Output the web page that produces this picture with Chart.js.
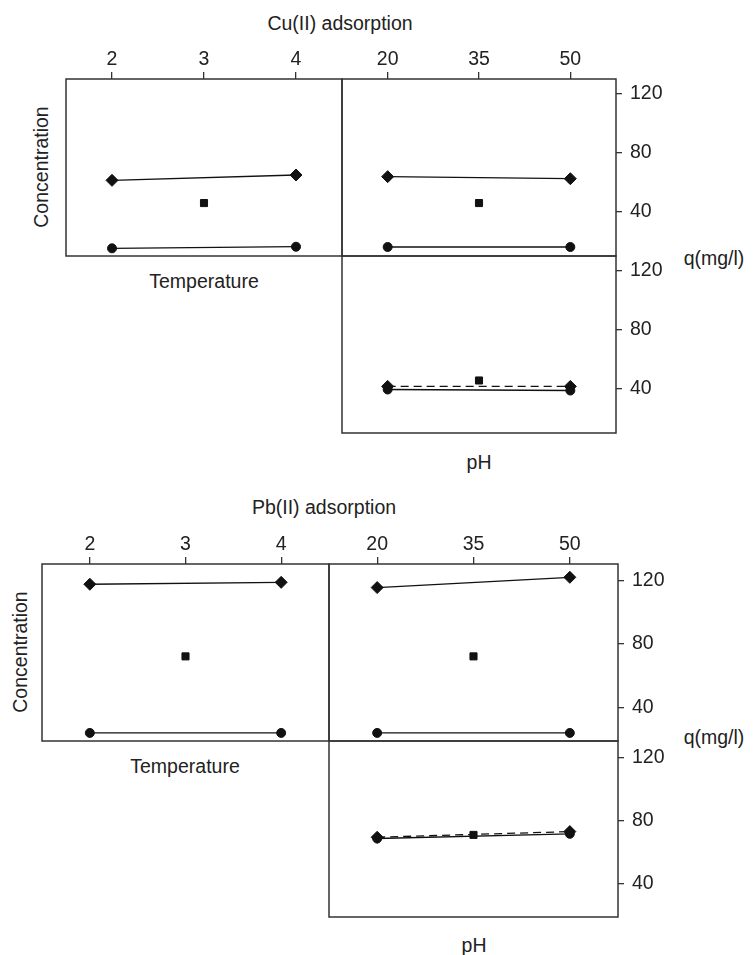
<!DOCTYPE html>
<html>
<head>
<meta charset="utf-8">
<script src="https://cdn.jsdelivr.net/npm/chart.js@4/dist/chart.umd.min.js"></script>
<style>
  body { margin: 0; background: #fff; }
  #page { position: relative; width: 753px; height: 955px; overflow: hidden; font-family: "Liberation Sans", Arial, sans-serif; color: #222; }
  canvas { position: absolute; }
  .lbl { position: absolute; font-size: 19.5px; white-space: nowrap; transform: translate(-50%, -50%); }
  .rot { transform: translate(-50%, -50%) rotate(-90deg); }
</style>
</head>
<body>
<div id="page"></div>
<script>
// factor levels (tick labels)
const tempLevels = [2, 3, 4];
const phLevels = [20, 35, 50];
const qTicks = [40, 80, 120];

// Cu(II): low level = circle, centre point = square, high level = diamond
const cuConcTempLow = [15.2, 16.3];
const cuConcTempHigh = [61.3, 64.9];
const cuConcTempCenter = 45.9;
const cuConcPhLow = [16.1, 16.1];
const cuConcPhHigh = [63.8, 62.4];
const cuConcPhCenter = 45.9;
const cuTempPhLow = [39.5, 38.8];
const cuTempPhHigh = [41.6, 41.6];
const cuTempPhCenter = 45.6;

// Pb(II)
const pbConcTempLow = [23.8, 23.8];
const pbConcTempHigh = [117.8, 119.0];
const pbConcTempCenter = 72.2;
const pbConcPhLow = [23.8, 23.8];
const pbConcPhHigh = [115.7, 122.2];
const pbConcPhCenter = 72.2;
const pbTempPhLow = [68.6, 71.6];
const pbTempPhHigh = [69.4, 73.0];
const pbTempPhCenter = 70.9;

const INK = '#111';
const FRAME = '#333';
const FONT = { family: '"Liberation Sans", Arial, sans-serif', size: 19.5 };
const P = 4, TOP_H = 40, RIGHT_W = 60;

const page = document.getElementById('page');

const frame = {
    id: 'frame',
    beforeDatasetsDraw(chart) {
        const { ctx, chartArea: a } = chart;
        ctx.save();
        ctx.strokeStyle = FRAME;
        ctx.lineWidth = 1.5;
        ctx.strokeRect(a.left, a.top, a.width, a.height);
        ctx.restore();
    }
};

function fixSize(s, w, h) {
    if (w !== null) s.width = w;
    if (h !== null) s.height = h;
    s.paddingTop = s.paddingBottom = s.paddingLeft = s.paddingRight = 0;
}

function series(levels, low, high, center, highDashed) {
    return [
        {
            data: [{ x: levels[0], y: low[0] }, { x: levels[2], y: low[1] }],
            showLine: true, borderColor: INK, borderWidth: 1.3,
            pointStyle: 'circle', pointRadius: 4.5, pointBackgroundColor: INK, pointBorderColor: INK, pointBorderWidth: 1
        },
        {
            data: [{ x: levels[0], y: high[0] }, { x: levels[2], y: high[1] }],
            showLine: true, borderColor: INK, borderWidth: 1.3, borderDash: highDashed ? [8, 5] : [],
            pointStyle: 'rectRot', pointRadius: 6, pointBackgroundColor: INK, pointBorderColor: INK, pointBorderWidth: 1
        },
        {
            data: [{ x: levels[1], y: center }],
            showLine: false,
            pointStyle: 'rect', pointRadius: 5, pointBackgroundColor: INK, pointBorderColor: INK, pointBorderWidth: 1
        }
    ];
}

function panel(box, xRange, yRange, xTicks, showTop, showRight, datasets) {
    const topH = showTop ? TOP_H : 0;
    const rightW = showRight ? RIGHT_W : 0;
    const canvas = document.createElement('canvas');
    canvas.width = box.w + 2 * P + rightW;
    canvas.height = box.h + 2 * P + topH;
    canvas.style.left = (box.l - P) + 'px';
    canvas.style.top = (box.t - P - topH) + 'px';
    page.appendChild(canvas);

    new Chart(canvas, {
        type: 'scatter',
        data: { datasets },
        options: {
            responsive: false,
            animation: false,
            devicePixelRatio: 1,
            layout: { padding: P, autoPadding: false },
            plugins: { legend: { display: false }, tooltip: { enabled: false } },
            scales: {
                x: {
                    type: 'linear', position: 'top', display: showTop,
                    min: xRange[0], max: xRange[1],
                    afterBuildTicks: s => { s.ticks = xTicks.map(v => ({ value: v })); },
                    afterFit: s => fixSize(s, null, topH),
                    border: { display: false },
                    grid: { drawOnChartArea: false, drawTicks: true, tickLength: 7, color: FRAME, lineWidth: 1.3 },
                    ticks: { color: '#222', font: FONT, padding: 1, maxRotation: 0 }
                },
                y: {
                    type: 'linear', position: 'right', display: showRight,
                    min: yRange[0], max: yRange[1],
                    afterBuildTicks: s => { s.ticks = qTicks.map(v => ({ value: v })); },
                    afterFit: s => fixSize(s, rightW, null),
                    border: { display: false },
                    grid: { drawOnChartArea: false, drawTicks: true, tickLength: 6, color: FRAME, lineWidth: 1.3 },
                    ticks: { color: '#222', font: FONT, padding: 8 }
                }
            }
        },
        plugins: [frame]
    });
}

function label(text, x, y, rotate) {
    const d = document.createElement('div');
    d.className = 'lbl' + (rotate ? ' rot' : '');
    d.textContent = text;
    d.style.left = x + 'px';
    d.style.top = y + 'px';
    page.appendChild(d);
}

const tempRange = [1.5, 4.5];
const phRange = [12.5, 57.5];
const cuY = [10, 130];
const pbY = [18.7, 130.6];

// Cu(II) block
panel({ l: 66, t: 79, w: 276, h: 177 }, tempRange, cuY, tempLevels, true, false,
    series(tempLevels, cuConcTempLow, cuConcTempHigh, cuConcTempCenter, false));
panel({ l: 342, t: 79, w: 274, h: 177 }, phRange, cuY, phLevels, true, true,
    series(phLevels, cuConcPhLow, cuConcPhHigh, cuConcPhCenter, false));
panel({ l: 342, t: 256, w: 274, h: 177 }, phRange, cuY, phLevels, false, true,
    series(phLevels, cuTempPhLow, cuTempPhHigh, cuTempPhCenter, true));

label('Cu(II) adsorption', 340, 23);
label('Concentration', 41, 167, true);
label('Temperature', 204, 281);
label('pH', 479, 462);
label('q(mg/l)', 714, 258);

// Pb(II) block
panel({ l: 42, t: 564, w: 287, h: 177 }, tempRange, pbY, tempLevels, true, false,
    series(tempLevels, pbConcTempLow, pbConcTempHigh, pbConcTempCenter, false));
panel({ l: 329, t: 564, w: 289, h: 177 }, phRange, pbY, phLevels, true, true,
    series(phLevels, pbConcPhLow, pbConcPhHigh, pbConcPhCenter, false));
panel({ l: 329, t: 741, w: 289, h: 176 }, phRange, pbY, phLevels, false, true,
    series(phLevels, pbTempPhLow, pbTempPhHigh, pbTempPhCenter, true));

label('Pb(II) adsorption', 324, 507);
label('Concentration', 20, 652, true);
label('Temperature', 185, 766);
label('pH', 474, 945);
label('q(mg/l)', 714, 737);
</script>
</body>
</html>
